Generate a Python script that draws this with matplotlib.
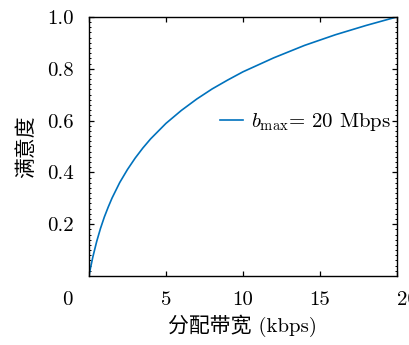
import matplotlib
matplotlib.use('Agg')
import matplotlib.pyplot as plt
from matplotlib.ticker import MultipleLocator
from matplotlib.transforms import ScaledTranslation

plt.rcParams['font.family'] = ['cmr10', 'Noto Sans CJK SC']
plt.rcParams['mathtext.fontset'] = 'cm'
plt.rcParams['axes.formatter.use_mathtext'] = True

# 分配带宽 (kbps) 与 满意度
bw = [0, 0.05, 0.1, 0.25, 0.5, 0.75, 1, 1.25, 1.5, 2, 2.5, 3, 3.5, 4, 5, 6, 7, 8, 9,
      10, 12, 14, 16, 18, 20]
sat = [0, 0.016, 0.031, 0.073, 0.133, 0.184, 0.228, 0.266, 0.301, 0.361, 0.411, 0.455,
       0.494, 0.529, 0.589, 0.639, 0.683, 0.722, 0.756, 0.788, 0.842, 0.890, 0.931,
       0.967, 1.0]
xticks = [0, 5, 10, 15, 20]
yticks = [0.2, 0.4, 0.6, 0.8, 1.0]

fs = 15

fig = plt.figure(figsize=(4.1, 3.45), dpi=100)
ax = fig.add_axes([0.217, 0.2, 0.751, 0.751])

ax.plot(bw, sat, color='#0072bd', lw=1.2, label=r'$b_{\mathrm{max}}$= 20 Mbps')

ax.set_xlim(0, 20)
ax.set_ylim(0, 1)
ax.set_xticks(xticks)
ax.set_xticklabels([str(v) for v in xticks])
ax.set_yticks(yticks)
ax.set_yticklabels(['%.1f' % v for v in yticks])
ax.yaxis.set_minor_locator(MultipleLocator(0.02))

ax.tick_params(which='both', direction='in', top=True, right=True, labelsize=fs)
ax.tick_params(which='major', length=3.5, width=0.9, pad=11)
ax.tick_params(which='minor', length=1.5, width=0.7)
for s in ax.spines.values():
    s.set_linewidth(1.0)

# 0 和 20 的刻度标签偏到两侧
labs = ax.get_xticklabels()
labs[0].set_ha('right')
labs[0].set_transform(labs[0].get_transform() + ScaledTranslation(-0.16, 0, fig.dpi_scale_trans))
labs[-1].set_ha('left')

ax.set_xlabel('分配带宽 (kbps)', fontsize=fs, labelpad=4)
ax.set_ylabel('满意度', fontsize=fs, labelpad=8)

ax.legend(loc='center right', bbox_to_anchor=(1.01, 0.595), frameon=False, fontsize=fs,
          handlelength=1.1, handletextpad=0.4, borderaxespad=0.0)

fig.savefig('out.png', dpi=100)
